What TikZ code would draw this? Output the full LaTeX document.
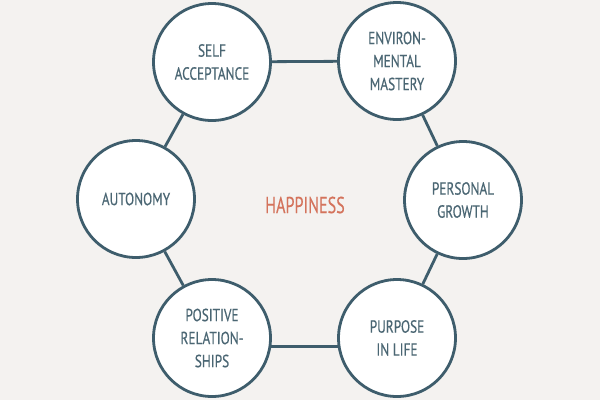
\documentclass[tikz,border=0pt]{standalone}
\usepackage{fontspec}
\newfontfamily\handfont[FakeStretch=0.76,FakeBold=0.4]{PT Sans}
\newfontfamily\headfont[FakeStretch=0.70,FakeBold=0.3]{PT Sans}
\usetikzlibrary{positioning}
\definecolor{paper}{HTML}{F4F2F0}
\definecolor{slate}{HTML}{3E5D6C}
\definecolor{slatetext}{HTML}{4A6673}
\definecolor{salmon}{HTML}{D4735C}

\begin{document}
\begin{tikzpicture}[x=1pt,y=-1pt,
  bubble/.style={circle,draw=slate,line width=2.8pt,fill=white,
    minimum size=117pt,inner sep=0pt,align=center,text=slatetext,
    font=\handfont\fontsize{17.5}{23}\selectfont},
  link/.style={draw=slate,line width=2.8pt}]
  \fill[paper] (0,0) rectangle (600,400);
  \node[text=salmon,font=\headfont\fontsize{23}{26}\selectfont]
    (happy) at (305,205) {HAPPINESS};
  \node[bubble] (self) at (212,62) {SELF\\ACCEPTANCE};
  \node[bubble] (env) at (397,61) {ENVIRON-\\MENTAL\\MASTERY};
  \node[bubble] (grow) at (463,200) {PERSONAL\\GROWTH};
  \node[bubble] (life) at (397,338) {PURPOSE\\IN LIFE};
  \node[bubble] (rel) at (212,338) {POSITIVE\\RELATION-\\SHIPS};
  \node[bubble] (auto) at (136,199) {AUTONOMY};
  \draw[link] (self) -- (env);
  \draw[link] (env) -- (grow);
  \draw[link] (grow) -- (life);
  \draw[link] (rel.-8) -- (life.-172);
  \draw[link] (auto) -- (rel);
  \draw[link] (self) -- (auto);
\end{tikzpicture}
\end{document}
